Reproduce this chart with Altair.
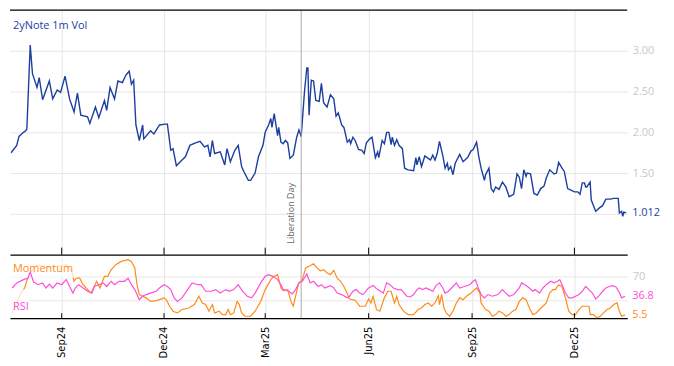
import altair as alt
import pandas as pd

START = pd.Timestamp("2024-07-17")

# 2yNote 1m Vol (days since START, value)
vol_days = [1, 6, 8, 12, 14, 15, 18, 20, 24, 26, 29, 35, 38, 42, 45, 49, 53, 57, 60, 63,
            69, 71, 76, 79, 84, 86, 89, 93, 96, 100, 103, 106, 108, 110, 112, 115, 118, 119, 125, 128,
            133, 138, 140, 143, 145, 148, 153, 156, 160, 165, 169, 173, 176, 178, 180, 182, 187, 191, 193, 196,
            200, 203, 206, 208, 212, 214, 218, 221, 225, 227, 230, 232, 233, 235, 238, 239, 241, 243, 245, 247,
            249, 252, 255, 257, 259, 262, 264, 265, 266, 268, 270, 272, 275, 277, 279, 282, 285, 288, 290, 292,
            295, 297, 300, 302, 303, 305, 307, 310, 313, 315, 317, 320, 322, 325, 327, 328, 331, 333, 335, 337,
            339, 340, 342, 344, 346, 349, 351, 354, 359, 361, 362, 364, 366, 369, 372, 374, 376, 378, 380, 382,
            385, 387, 389, 390, 392, 394, 396, 400, 403, 407, 410, 412, 415, 417, 419, 422, 423, 426, 428, 430,
            432, 435, 438, 441, 444, 448, 451, 453, 455, 457, 459, 460, 463, 466, 469, 472, 475, 477, 480, 484,
            486, 488, 491, 493, 496, 499, 502, 505, 507, 509, 511, 512, 513, 516, 517, 519, 521, 524, 527, 530,
            534, 537, 541, 542, 544, 545, 546, 548]
vol_vals = [1.75, 1.84, 1.95, 2.00, 2.02, 2.04, 3.07, 2.72, 2.55, 2.67, 2.40, 2.63, 2.41, 2.52, 2.49, 2.69, 2.41, 2.25, 2.48, 2.21,
            2.19, 2.11, 2.31, 2.18, 2.39, 2.27, 2.55, 2.41, 2.63, 2.61, 2.70, 2.75, 2.59, 2.64, 2.09, 1.90, 2.09, 1.92, 2.02, 1.98,
            2.09, 2.10, 2.10, 1.78, 1.80, 1.59, 1.66, 1.70, 1.84, 1.87, 1.89, 1.82, 1.84, 1.70, 1.90, 1.74, 1.76, 1.60, 1.80, 1.64,
            1.78, 1.84, 1.58, 1.52, 1.41, 1.41, 1.50, 1.70, 1.84, 2.00, 2.09, 2.17, 2.06, 2.23, 1.96, 2.06, 1.88, 1.86, 1.90, 1.87,
            1.68, 1.72, 1.94, 2.03, 1.95, 2.51, 2.79, 2.79, 2.21, 2.64, 2.63, 2.39, 2.38, 2.60, 2.36, 2.31, 2.46, 2.41, 2.20, 2.24,
            2.09, 2.06, 1.88, 1.91, 1.86, 1.94, 1.90, 1.79, 1.78, 1.74, 1.87, 1.92, 1.94, 1.69, 1.76, 1.69, 1.90, 1.86, 2.00, 2.00,
            1.85, 1.94, 1.84, 1.91, 1.84, 1.80, 1.56, 1.54, 1.53, 1.69, 1.60, 1.70, 1.58, 1.71, 1.68, 1.66, 1.72, 1.66, 1.74, 1.89,
            1.71, 1.56, 1.62, 1.54, 1.58, 1.48, 1.62, 1.73, 1.64, 1.69, 1.77, 1.79, 1.88, 1.70, 1.56, 1.41, 1.48, 1.56, 1.31, 1.27,
            1.33, 1.30, 1.39, 1.33, 1.21, 1.24, 1.49, 1.45, 1.31, 1.54, 1.46, 1.50, 1.49, 1.25, 1.23, 1.31, 1.34, 1.44, 1.54, 1.49,
            1.50, 1.63, 1.56, 1.52, 1.31, 1.29, 1.27, 1.27, 1.24, 1.38, 1.38, 1.33, 1.33, 1.39, 1.17, 1.10, 1.03, 1.07, 1.10, 1.18,
            1.18, 1.19, 1.19, 1.01, 1.03, 0.97, 1.02, 1.012]

# Momentum (scaled 0-100)
mom_days = [2, 9, 13, 17, 24, 35, 43, 50, 55, 57, 59, 62, 65, 69, 72, 75, 77, 80, 84, 87,
            90, 94, 99, 105, 108, 111, 113, 115, 121, 125, 130, 133, 137, 139, 142, 145, 149, 153, 159, 164,
            168, 171, 174, 177, 180, 182, 186, 189, 192, 194, 196, 199, 202, 204, 206, 209, 214, 218, 223, 227,
            232, 235, 238, 241, 243, 247, 250, 252, 255, 257, 260, 263, 266, 270, 273, 276, 279, 282, 285, 288,
            291, 294, 297, 300, 302, 307, 311, 316, 319, 321, 323, 326, 329, 333, 336, 339, 342, 344, 346, 350,
            354, 359, 363, 366, 369, 372, 375, 378, 381, 382, 384, 386, 388, 391, 394, 397, 400, 403, 406, 410,
            415, 418, 419, 421, 423, 426, 429, 432, 435, 438, 441, 444, 447, 450, 453, 456, 459, 462, 465, 468,
            471, 474, 477, 480, 483, 485, 488, 491, 494, 497, 500, 503, 506, 509, 512, 515, 516, 519, 522, 525,
            528, 531, 534, 537, 540, 542, 544, 547]
mom_vals = [8.8, 39.5, 50.5, 74, 89, 84, 87, 89.5, 78, 61.7, 67, 67, 56, 48, 42, 53, 61.7, 50.5, 70, 70,
            81, 89.5, 95, 97.8, 95, 84, 56, 39.5, 34, 28, 29.5, 31, 34, 31, 20, 11.7, 8.8, 14.5, 17, 22.8,
            36.7, 25.5, 22.8, 11.7, 22.8, 8.8, 11.7, 6, 6, 14.5, 6, 8.8, 28, 22.8, 8.8, 3.3, 3.3, 11.7, 28, 47.8,
            64.5, 70, 72.8, 50.5, 46, 47.8, 28, 20, 45, 59, 64.5, 84, 86.7, 91, 84, 79, 81, 75.5, 72.8, 80,
            67, 61.7, 53, 41, 32, 30, 20, 20, 32, 25.5, 36.7, 14.5, 11.7, 34, 45, 45, 25.5, 36.7, 22.8, 11.7,
            6, 6, 14.5, 17, 22.8, 25.5, 20, 25.5, 37.8, 22.8, 39.5, 17, 8.8, 3.3, 11.7, 25.5, 34, 31, 36.7, 42,
            50.5, 42, 25.5, 20, 14.5, 11.7, 3.3, 6, 11.7, 8.8, 3.3, 6, 11.7, 14.5, 28, 34, 31, 17, 6, 8.8,
            14.5, 20, 25.5, 42, 47.8, 47.8, 56, 53, 34, 11.7, 6, 6, 14.5, 20, 20, 20, 6, 6, 0.5, 3.3,
            8.8, 14.5, 17, 22.8, 25.5, 11.7, 3.3, 5.5]

# RSI
rsi_days = [2, 6, 12, 16, 18, 21, 25, 29, 32, 35, 38, 42, 46, 50, 53, 56, 58, 61, 65, 69,
            73, 75, 79, 83, 86, 90, 93, 97, 102, 105, 108, 111, 115, 118, 121, 125, 130, 133, 137, 140,
            143, 146, 149, 153, 158, 162, 167, 170, 174, 179, 183, 187, 192, 195, 199, 203, 207, 211, 215, 218,
            223, 227, 230, 234, 238, 241, 243, 248, 251, 254, 257, 260, 264, 267, 270, 274, 277, 280, 285, 288,
            291, 295, 300, 302, 305, 308, 311, 314, 319, 323, 327, 332, 335, 338, 341, 345, 348, 353, 356, 359,
            362, 364, 367, 370, 373, 376, 379, 382, 385, 387, 390, 394, 397, 400, 404, 409, 412, 414, 416, 419,
            422, 425, 429, 434, 438, 441, 444, 448, 453, 455, 458, 462, 465, 467, 471, 474, 477, 481, 484, 487,
            489, 491, 494, 497, 500, 503, 506, 509, 512, 515, 518, 521, 524, 527, 530, 533, 536, 539, 542, 544,
            547]
rsi_vals = [50.5, 59, 64.5, 67, 77, 60.5, 56, 59, 50.5, 57, 50.5, 59, 56, 64.5, 53, 42, 50.5, 56, 50.5, 45,
            42, 53, 56, 59, 53, 61.7, 56, 61.7, 61.7, 67, 56, 47.8, 31, 36.7, 39.5, 42, 45, 50.5, 56, 53,
            47.8, 34, 28, 34, 47.8, 59, 56, 56, 45, 45, 47.8, 42, 47.8, 45, 47.8, 56, 45, 36.7, 34, 42,
            59, 70, 72.8, 70, 64.5, 56, 47.8, 45, 40.5, 47.8, 59, 61.7, 74, 59, 61.7, 53, 56, 50.5, 54.5, 50.5,
            42, 39.5, 34, 36.7, 45, 47.8, 42, 39.5, 50.5, 54.5, 47.8, 42, 59, 56, 50.5, 47.8, 47.8, 36.7, 35.5, 39.5,
            47.8, 50.5, 47.8, 50.5, 47.8, 45, 54.5, 59, 50.5, 42, 45, 53, 59, 50.5, 53, 56, 61.7, 64.5, 53, 39.5,
            34, 39.5, 36.7, 39.5, 47.8, 42, 36.7, 39.5, 50.5, 59, 56, 50.5, 45, 47.8, 42, 50.5, 56, 61.7, 59, 61.7,
            64.5, 56, 42, 34, 34, 36.7, 39.5, 45, 53, 47.8, 42, 32, 37.8, 45, 50.5, 53, 54.5, 52.3, 43, 34,
            36.8]

tick_dates = ["2024-09-01", "2024-12-01", "2025-03-01", "2025-06-01", "2025-09-01", "2025-12-01"]
event_date = "2025-04-02"
event_label = "Liberation Day"
title_text = "2yNote 1m Vol"
vol_ticks = [1.0, 1.5, 2.0, 2.5, 3.0]
osc_ticks = [30, 70]

BLUE = "#1c3f9e"
ORANGE = "#ff8c1a"
MAGENTA = "#ff4fd8"
GRID = "#e6e6e6"
LABELGRAY = "#c8c8c8"
W, H1, H2 = 621, 246, 62

def to_df(days, vals):
    return pd.DataFrame({"date": [START + pd.Timedelta(days=d) for d in days], "value": vals})

vol = to_df(vol_days, vol_vals)
mom = to_df(mom_days, mom_vals)
rsi = to_df(rsi_days, rsi_vals)
ticks = pd.DataFrame({"date": pd.to_datetime(tick_dates)})
event = pd.DataFrame({"date": [pd.Timestamp(event_date)], "label": [event_label]})

xdom = [alt.DateTime(year=2024, month=7, date=17), alt.DateTime(year=2026, month=1, date=17)]
tick_dt = [alt.DateTime(year=int(t[:4]), month=int(t[5:7]), date=1) for t in tick_dates]
xscale = alt.Scale(domain=xdom)

# ---------- top panel ----------
top_x = alt.X("date:T", scale=xscale, title=None,
              axis=alt.Axis(values=tick_dt, labels=False, ticks=False, domain=True,
                            domainColor="black", domainWidth=1.2, grid=True, gridColor=GRID))
top_y = alt.Y("value:Q", scale=alt.Scale(domain=[0.5, 3.5], nice=False, zero=False), title=None,
              axis=alt.Axis(orient="right", values=vol_ticks, format=".2f",
                            labelExpr="datum.value == 1 ? '' : datum.label",
                            labelColor=LABELGRAY, labelFont="Open Sans", labelFontSize=11,
                            labelPadding=5, domain=False, ticks=False, grid=True, gridColor=GRID))

vol_line = alt.Chart(vol).mark_line(color=BLUE, strokeWidth=1.4).encode(x=top_x, y=top_y)
vol_last = alt.Chart(vol.tail(1)).mark_text(align="left", baseline="middle", dx=5, color=BLUE,
                                            font="Open Sans", fontSize=11).encode(
    x=alt.value(W), y=alt.Y("value:Q"), text=alt.Text("value:Q", format=".3f"))
top_border = alt.Chart(vol.head(1)).mark_rule(color="black", strokeWidth=1.2).encode(
    x=alt.value(0), x2=alt.value(W), y=alt.value(0))
top_ticks = alt.Chart(ticks).mark_rule(color="black", strokeWidth=1).encode(
    x="date:T", y=alt.value(H1 - 7), y2=alt.value(H1))
ev_rule_top = alt.Chart(event).mark_rule(color="#aaaaaa", strokeWidth=1).encode(x="date:T")
ev_text = alt.Chart(event).mark_text(angle=270, align="left", baseline="bottom", dy=-5,
                                     color="#666666", font="Open Sans", fontSize=9).encode(
    x="date:T", y=alt.value(H1 - 11), text="label:N")
title = alt.Chart(vol.head(1)).mark_text(align="left", baseline="middle", color=BLUE,
                                         font="Open Sans", fontSize=11).encode(
    x=alt.value(3), y=alt.value(16), text=alt.value(title_text))

top = alt.layer(vol_line, ev_rule_top, ev_text, top_ticks, top_border, title, vol_last).properties(
    width=W, height=H1)

# ---------- bottom panel ----------
bot_x = alt.X("date:T", scale=xscale, title=None,
              axis=alt.Axis(values=tick_dt, format="%b%y", labelAngle=270, labelPadding=8,
                            labelFont="DejaVu Sans", labelFontSize=10, labelColor="black",
                            ticks=False, domain=True, domainColor="black", domainWidth=1.2,
                            grid=True, gridColor=GRID))
bot_y = alt.Y("value:Q", scale=alt.Scale(domain=[0, 103], nice=False), title=None,
              axis=alt.Axis(orient="right", values=osc_ticks,
                            labelExpr="datum.value == 30 ? '' : datum.label",
                            labelColor=LABELGRAY,
                            labelFont="Open Sans", labelFontSize=11, labelPadding=5,
                            domain=False, ticks=False, grid=True, gridColor=GRID))

mom_line = alt.Chart(mom).mark_line(color=ORANGE, strokeWidth=1.2).encode(x=bot_x, y=bot_y)
rsi_line = alt.Chart(rsi).mark_line(color=MAGENTA, strokeWidth=1.2).encode(x=bot_x, y=bot_y)
box1 = alt.Chart(mom.head(1)).mark_rect(color="white", opacity=0.75).encode(
    x=alt.value(0), x2=alt.value(68), y=alt.value(5), y2=alt.value(21))
box2 = alt.Chart(mom.head(1)).mark_rect(color="white", opacity=0.75).encode(
    x=alt.value(0), x2=alt.value(20), y=alt.value(33), y2=alt.value(60))
mom_lab = alt.Chart(mom.head(1)).mark_text(align="left", baseline="middle", color=ORANGE,
                                           font="Open Sans", fontSize=11).encode(
    x=alt.value(3), y=alt.value(13), text=alt.value("Momentum"))
rsi_lab = alt.Chart(mom.head(1)).mark_text(align="left", baseline="middle", color=MAGENTA,
                                           font="Open Sans", fontSize=11).encode(
    x=alt.value(3), y=alt.value(51), text=alt.value("RSI"))
mom_last = alt.Chart(mom.tail(1)).mark_text(align="left", baseline="middle", dx=5, color=ORANGE,
                                            font="Open Sans", fontSize=11).encode(
    x=alt.value(W), y=alt.Y("value:Q"), text=alt.Text("value:Q", format=".1f"))
rsi_last = alt.Chart(rsi.tail(1)).mark_text(align="left", baseline="middle", dx=5, color=MAGENTA,
                                            font="Open Sans", fontSize=11).encode(
    x=alt.value(W), y=alt.Y("value:Q"), text=alt.Text("value:Q", format=".1f"))
bot_ticks = alt.Chart(ticks).mark_rule(color="black", strokeWidth=1).encode(
    x="date:T", y=alt.value(H2 - 5), y2=alt.value(H2))
ev_rule_bot = alt.Chart(event).mark_rule(color="#aaaaaa", strokeWidth=1).encode(x="date:T")

bottom = alt.layer(mom_line, box1, box2, rsi_line, ev_rule_bot, bot_ticks, mom_lab, rsi_lab,
                   mom_last, rsi_last).properties(width=W, height=H2)

chart = alt.vconcat(top, bottom, spacing=0).properties(
    padding={"left": 0, "top": 0, "right": 5, "bottom": 5}
).configure_view(stroke=None).configure_concat(spacing=0)

chart.save("out.html", embed_options={"renderer": "svg", "actions": False})
